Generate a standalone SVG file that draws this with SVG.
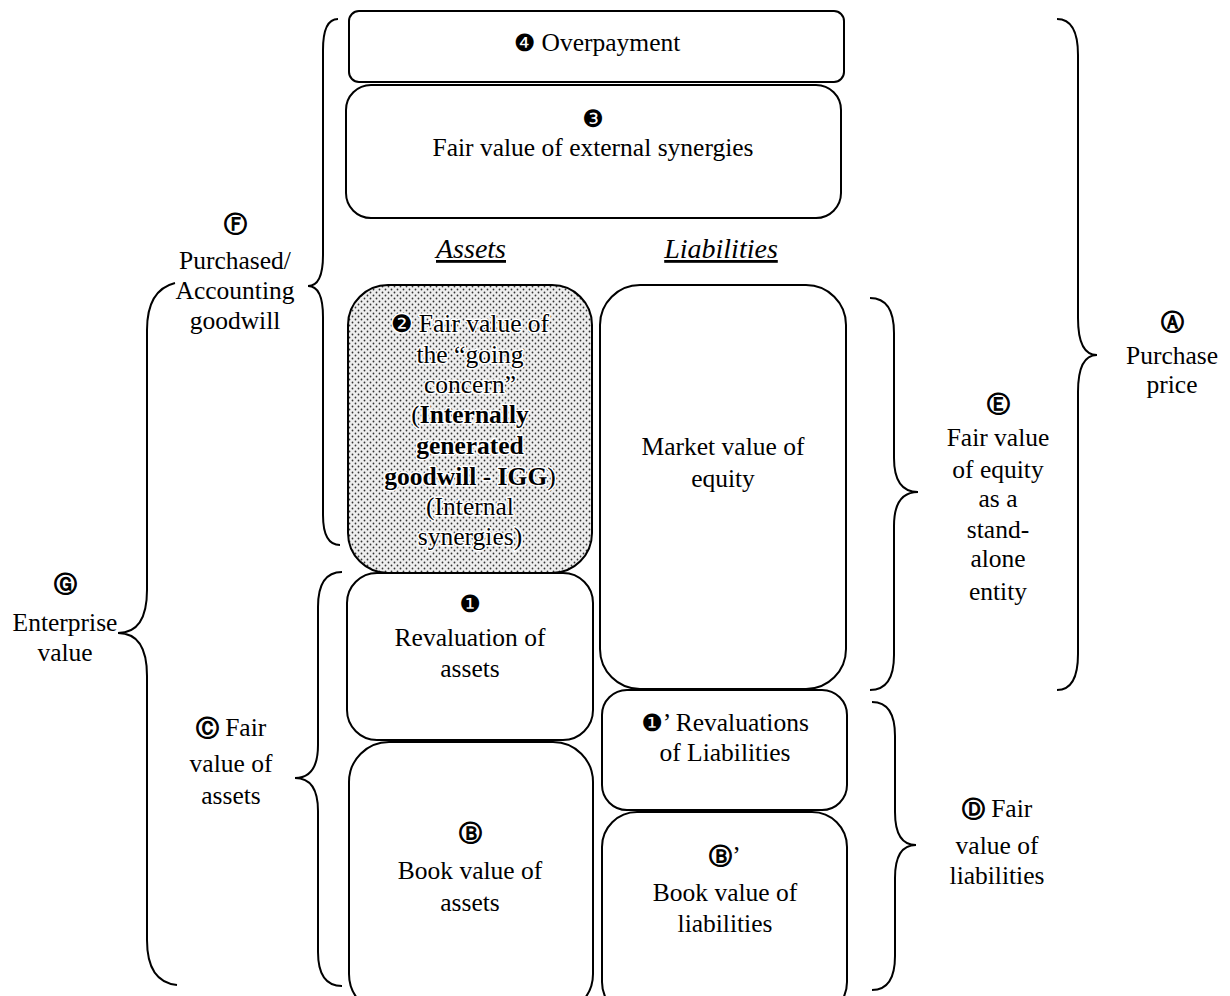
<svg xmlns="http://www.w3.org/2000/svg" width="1230" height="996" viewBox="0 0 1230 996">
<style>
.t{font-family:"Liberation Serif","Times New Roman",serif;font-size:25.5px;text-anchor:middle;fill:#000}
.s{font-family:"DejaVu Sans",sans-serif;font-size:24px}
.c{font-family:"DejaVu Sans",sans-serif;font-size:23px;stroke:#000;stroke-width:1.1}
.b{font-weight:bold}
.box{fill:#fff;stroke:#000;stroke-width:2}
.br{fill:none;stroke:#000;stroke-width:2}
.h{font-family:"Liberation Serif","Times New Roman",serif;font-size:28px;font-style:italic;text-anchor:middle;text-decoration:underline}
.halo{stroke:#fff;stroke-width:3;paint-order:stroke;stroke-linejoin:round}
</style>
<defs>
<pattern id="dots" width="6" height="6" patternUnits="userSpaceOnUse">
<rect width="6" height="6" fill="#eeeeee"/>
<circle cx="1.5" cy="1.5" r="0.9" fill="#333"/>
<circle cx="4.5" cy="4.5" r="0.9" fill="#333"/>
</pattern>
</defs>
<rect width="1230" height="996" fill="#fff"/>

<g id="connectors">
<path id="brace-F" class="br" d="M338,19 Q323,19 323,50 L323,255 Q323,286 308,286 Q323,286 323,317 L323,515 Q323,545 340,545"/>
<path id="brace-G" class="br" d="M175,283 Q147,290 147,330 L147,590 Q147,633 118,633 Q147,633 147,676 L147,940 Q147,982 177,985"/>
<path id="brace-C" class="br" d="M342,572 Q318,572 318,607 L318,745 Q318,778 295,778 Q318,778 318,811 L318,952 Q318,986 342,986"/>
<path id="brace-E" class="br" d="M870,298 Q894,298 894,333 L894,458 Q894,492 918,492 Q894,492 894,526 L894,655 Q894,690 870,690"/>
<path id="brace-A" class="br" d="M1057,19 Q1078,19 1078,55 L1078,318 Q1078,355 1097,355 Q1078,355 1078,392 L1078,654 Q1078,690 1057,690"/>
<path id="brace-D" class="br" d="M872,702 Q895,702 895,736 L895,812 Q895,845 916,845 Q895,845 895,878 L895,956 Q895,990 872,990"/>
</g>

<g id="node-overpayment">
<rect class="box" x="349" y="11" width="495" height="71" rx="10"/>
<text class="t" x="597" y="51"><tspan class="s">❹</tspan> Overpayment</text>
</g>
<g id="node-external">
<rect class="box" x="346" y="85" width="495" height="133" rx="25"/>
<text class="t" x="593" y="127"><tspan class="s">❸</tspan></text>
<text class="t" x="593" y="156">Fair value of external synergies</text>
</g>

<g id="headers">
<text class="h" x="471" y="258">Assets</text>
<text class="h" x="721" y="258">Liabilities</text>
</g>

<g id="node-igg">
<rect class="box" x="348" y="285" width="244" height="288" rx="40" style="fill:url(#dots)"/>
<g class="halo">
<text class="t" x="470" y="332"><tspan class="s">❷</tspan> Fair value of</text>
<text class="t" x="470" y="363">the “going</text>
<text class="t" x="470" y="393">concern”</text>
<text class="t" x="470" y="423">(<tspan class="b">Internally</tspan></text>
<text class="t" x="470" y="454"><tspan class="b">generated</tspan></text>
<text class="t" x="470" y="485"><tspan class="b">goodwill - IGG</tspan>)</text>
<text class="t" x="470" y="515">(Internal</text>
<text class="t" x="470" y="545">synergies)</text>
</g>
</g>

<g id="node-market">
<rect class="box" x="600" y="285" width="246" height="404" rx="40"/>
<text class="t" x="723" y="455">Market value of</text>
<text class="t" x="723" y="487">equity</text>
</g>

<g id="node-reval-assets">
<rect class="box" x="347" y="573" width="246" height="167" rx="30"/>
<text class="t" x="470" y="612"><tspan class="s">❶</tspan></text>
<text class="t" x="470" y="646">Revaluation of</text>
<text class="t" x="470" y="677">assets</text>
</g>

<g id="node-book-assets">
<rect class="box" x="349" y="742" width="244" height="272" rx="40"/>
<text class="t" x="470" y="841"><tspan class="c">Ⓑ</tspan></text>
<text class="t" x="470" y="879">Book value of</text>
<text class="t" x="470" y="911">assets</text>
</g>

<g id="node-reval-liab">
<rect class="box" x="602" y="690" width="245" height="120" rx="25"/>
<text class="t" x="725" y="731"><tspan class="s">❶</tspan>’ Revaluations</text>
<text class="t" x="725" y="761">of Liabilities</text>
</g>

<g id="node-book-liab">
<rect class="box" x="602" y="812" width="245" height="205" rx="35"/>
<text class="t" x="725" y="864"><tspan class="c">Ⓑ</tspan>’</text>
<text class="t" x="725" y="901">Book value of</text>
<text class="t" x="725" y="932">liabilities</text>
</g>

<g id="label-F">
<text class="t" x="235" y="232"><tspan class="c">Ⓕ</tspan></text>
<text class="t" x="235" y="269">Purchased/</text>
<text class="t" x="235" y="299">Accounting</text>
<text class="t" x="235" y="329">goodwill</text>
</g>
<g id="label-G">
<text class="t" x="65" y="592"><tspan class="c">Ⓖ</tspan></text>
<text class="t" x="65" y="631">Enterprise</text>
<text class="t" x="65" y="661">value</text>
</g>
<g id="label-C">
<text class="t" x="231" y="736"><tspan class="c">Ⓒ</tspan> Fair</text>
<text class="t" x="231" y="772">value of</text>
<text class="t" x="231" y="804">assets</text>
</g>
<g id="label-E">
<text class="t" x="998" y="412"><tspan class="c">Ⓔ</tspan></text>
<text class="t" x="998" y="446">Fair value</text>
<text class="t" x="998" y="478">of equity</text>
<text class="t" x="998" y="507">as a</text>
<text class="t" x="998" y="538">stand-</text>
<text class="t" x="998" y="567">alone</text>
<text class="t" x="998" y="600">entity</text>
</g>
<g id="label-A">
<text class="t" x="1172" y="330"><tspan class="c">Ⓐ</tspan></text>
<text class="t" x="1172" y="364">Purchase</text>
<text class="t" x="1172" y="393">price</text>
</g>
<g id="label-D">
<text class="t" x="997" y="817"><tspan class="c">Ⓓ</tspan> Fair</text>
<text class="t" x="997" y="854">value of</text>
<text class="t" x="997" y="884">liabilities</text>
</g>
</svg>
